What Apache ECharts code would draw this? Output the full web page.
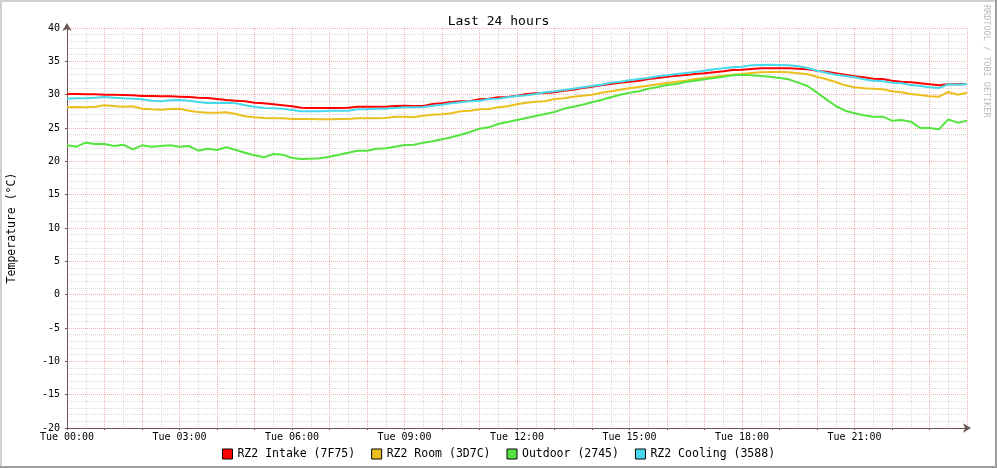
<!DOCTYPE html>
<html>
<head>
<meta charset="utf-8">
<script src="https://cdn.jsdelivr.net/npm/echarts@6/dist/echarts.min.js"></script>
<style>
html,body{margin:0;padding:0;background:#fff;}
#c{width:997px;height:468px;}
</style>
</head>
<body>
<div id="c"></div>
<script>
// time of day in hours (15-minute samples)
var hours = [0,0.25,0.5,0.75,1,1.25,1.5,1.75,2,2.25,2.5,2.75,3,3.25,3.5,3.75,4,4.25,4.5,4.75,5,5.25,5.5,5.75,6,6.25,6.5,6.75,7,7.25,7.5,7.75,8,8.25,8.5,8.75,9,9.25,9.5,9.75,10,10.25,10.5,10.75,11,11.25,11.5,11.75,12,12.25,12.5,12.75,13,13.25,13.5,13.75,14,14.25,14.5,14.75,15,15.25,15.5,15.75,16,16.25,16.5,16.75,17,17.25,17.5,17.75,18,18.25,18.5,18.75,19,19.25,19.5,19.75,20,20.25,20.5,20.75,21,21.25,21.5,21.75,22,22.25,22.5,22.75,23,23.25,23.5,23.75,24];
var tickLabels = ['Tue 00:00','Tue 03:00','Tue 06:00','Tue 09:00','Tue 12:00','Tue 15:00','Tue 18:00','Tue 21:00'];
var seriesNames = ['RZ2 Intake (7F75)','RZ2 Room (3D7C)','Outdoor (2745)','RZ2 Cooling (3588)'];
var intake = [30.1,30.1,30.05,30.05,30.0,30.0,29.95,29.9,29.8,29.8,29.75,29.75,29.7,29.65,29.55,29.5,29.35,29.2,29.1,29.0,28.8,28.7,28.55,28.4,28.25,
 28.05,28.0,28.0,28.0,28.0,28.05,28.2,28.2,28.2,28.2,28.3,28.35,28.3,28.3,28.6,28.7,28.9,29.0,29.05,29.3,29.4,29.6,29.65,29.85,
 30.1,30.2,30.25,30.35,30.6,30.75,31.0,31.2,31.4,31.6,31.8,31.95,32.1,32.35,32.5,32.7,32.85,32.95,33.1,33.2,33.35,33.5,33.7,33.75,
 33.85,33.95,33.95,33.95,33.95,33.9,33.8,33.6,33.45,33.2,33.0,32.75,32.6,32.4,32.35,32.1,31.95,31.85,31.7,31.55,31.4,31.55,31.55,31.6];
var room = [28.1,28.15,28.1,28.2,28.4,28.3,28.2,28.25,27.9,27.8,27.75,27.85,27.9,27.6,27.4,27.3,27.3,27.35,27.1,26.75,26.6,26.5,26.45,26.45,26.35,
 26.35,26.35,26.3,26.3,26.35,26.35,26.45,26.45,26.45,26.5,26.7,26.7,26.6,26.85,27.0,27.05,27.2,27.5,27.6,27.8,27.85,28.1,28.25,28.55,
 28.8,28.95,29.0,29.35,29.45,29.7,29.85,30.0,30.3,30.5,30.75,30.95,31.15,31.35,31.55,31.75,31.95,32.1,32.35,32.5,32.7,32.85,33.0,33.1,
 33.25,33.35,33.4,33.4,33.35,33.2,33.05,32.7,32.3,31.9,31.4,31.1,30.95,30.9,30.8,30.5,30.35,30.1,29.95,29.75,29.7,30.4,30.0,30.3];
var outdoor = [22.4,22.2,22.8,22.6,22.6,22.3,22.5,21.8,22.4,22.2,22.3,22.4,22.2,22.3,21.6,21.9,21.7,22.1,21.7,21.3,20.9,20.6,21.1,21.0,20.5,
 20.35,20.4,20.45,20.7,21.0,21.3,21.6,21.6,21.9,21.95,22.2,22.45,22.5,22.8,23.0,23.3,23.6,24.0,24.4,24.9,25.1,25.6,25.9,26.2,
 26.5,26.8,27.1,27.4,27.9,28.2,28.5,28.85,29.2,29.6,30.0,30.3,30.5,30.9,31.15,31.45,31.6,31.9,32.1,32.3,32.5,32.7,32.9,33.0,
 32.9,32.8,32.7,32.5,32.3,31.8,31.3,30.3,29.3,28.3,27.6,27.2,26.9,26.7,26.7,26.1,26.2,25.95,25.0,25.0,24.8,26.3,25.8,26.1];
var cooling = [29.4,29.45,29.45,29.55,29.65,29.55,29.45,29.4,29.3,29.1,29.0,29.15,29.2,29.1,28.9,28.75,28.75,28.8,28.7,28.4,28.2,28.0,27.95,27.9,27.7,
 27.5,27.5,27.5,27.6,27.6,27.6,27.8,27.8,27.9,27.9,28.0,28.1,28.1,28.15,28.35,28.5,28.7,28.85,29.0,29.1,29.35,29.4,29.6,29.8,
 29.9,30.1,30.35,30.5,30.7,30.9,31.1,31.3,31.5,31.8,31.95,32.15,32.35,32.5,32.75,32.9,33.1,33.25,33.4,33.6,33.8,33.95,34.1,34.2,
 34.4,34.45,34.5,34.45,34.4,34.25,34.0,33.6,33.3,33.0,32.8,32.6,32.3,32.1,32.0,31.8,31.7,31.45,31.3,31.1,31.0,31.55,31.5,31.6];

var colors = ['#FF0000','#EBC01E','#55E43F','#48D8EC'];
var values = [intake, room, outdoor, cooling];
var font = 'DejaVu Sans Mono';

function pairs(arr){ return hours.map(function(h,i){ return [h, arr[i]]; }); }

var chart = echarts.init(document.getElementById('c'), null, {renderer:'canvas'});
var gridRed = '#F6AFAF', gridGrey = '#DADADA', axisCol = '#6E5555';
chart.setOption({
  animation: false,
  backgroundColor: '#ffffff',
  title: {
    text: 'Last 24 hours', left: 'center', top: 10,
    textStyle: {fontFamily: font, fontSize: 13, fontWeight: 'normal', color: '#000'}
  },
  legend: {
    bottom: 3, left: 'center', icon: 'rect', itemWidth: 10, itemHeight: 10, itemGap: 16,
    itemStyle: {borderColor: '#000', borderWidth: 1},
    textStyle: {fontFamily: font, fontSize: 11.5, color: '#000'},
    data: seriesNames
  },
  grid: {left: 67, top: 28, width: 900, height: 400, containLabel: false, outerBoundsMode: 'none'},
  xAxis: {
    type: 'value', min: 0, max: 24, interval: 1,
    axisLine: {show: true, onZero: false, lineStyle: {color: axisCol, width: 1},
      symbol: ['none','arrow'], symbolSize: [7, 8], symbolOffset: [0, 4]},
    axisTick: {show: true, length: 2, lineStyle: {color: axisCol}},
    axisLabel: {
      fontFamily: font, fontSize: 10, color: '#000', margin: 4,
      showMaxLabel: false,
      formatter: function(v){ return (v % 3 === 0 && v < 24) ? tickLabels[v/3] : ''; }
    },
    splitLine: {show: true, lineStyle: {color: gridRed, width: 1, type: [1,1]}},
    minorTick: {show: false, splitNumber: 2},
    minorSplitLine: {show: true, lineStyle: {color: gridGrey, width: 1, type: [1,1]}}
  },
  yAxis: {
    type: 'value', min: -20, max: 40, interval: 5,
    name: 'Temperature (°C)', nameLocation: 'middle', nameGap: 49, nameRotate: 90,
    nameTextStyle: {fontFamily: font, fontSize: 11.5, color: '#000'},
    axisLine: {show: true, onZero: false, lineStyle: {color: axisCol, width: 1},
      symbol: ['none','arrow'], symbolSize: [7, 8], symbolOffset: [0, 5]},
    axisTick: {show: true, length: 2, lineStyle: {color: axisCol}},
    axisLabel: {fontFamily: font, fontSize: 10, color: '#000', margin: 7},
    splitLine: {show: true, lineStyle: {color: gridRed, width: 1, type: [1,1]}},
    minorTick: {show: false, splitNumber: 5},
    minorSplitLine: {show: true, lineStyle: {color: gridGrey, width: 1, type: [1,1]}}
  },
  series: seriesNames.map(function(n, i){
    return {
      name: n, type: 'line', data: pairs(values[i]), showSymbol: false, symbol: 'none',
      lineStyle: {color: colors[i], width: 2}, itemStyle: {color: colors[i]},
      z: 3 + i, silent: true
    };
  }),
  graphic: [
    {type: 'text', left: 982, top: 5, rotation: -Math.PI/2, originX: 0, originY: 0,
     style: {text: 'RRDTOOL / TOBI OETIKER', fontFamily: font, fontSize: 8.5, fill: '#BDBDBD'}},
    {type: 'rect', left: 0, top: 0, shape: {width: 997, height: 2}, style: {fill: '#CFCFCF'}, silent: true},
    {type: 'rect', left: 0, top: 0, shape: {width: 2, height: 468}, style: {fill: '#CFCFCF'}, silent: true},
    {type: 'rect', left: 0, top: 466, shape: {width: 997, height: 2}, style: {fill: '#9E9E9E'}, silent: true},
    {type: 'rect', left: 995, top: 0, shape: {width: 2, height: 468}, style: {fill: '#9E9E9E'}, silent: true}
  ]
});
</script>
</body>
</html>
